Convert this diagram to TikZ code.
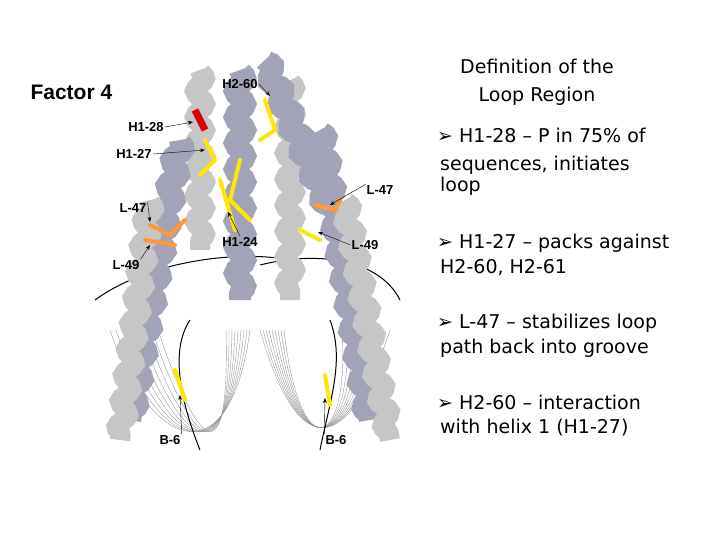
\documentclass[tikz,border=0pt]{standalone}
\usepackage{fontspec}
\setmainfont{DejaVu Sans}
\newfontfamily\lab{Liberation Sans}
\usetikzlibrary{decorations.pathmorphing,arrows.meta}
\begin{document}
\begin{tikzpicture}[x=1pt,y=-1pt,
  lbl/.style={font=\lab\bfseries\fontsize{13}{13}\selectfont,inner sep=1pt},
  txt/.style={font=\fontsize{19}{21}\selectfont,anchor=west,inner sep=0pt},
  ptr/.style={-{Stealth[length=5pt]},thin},
  helixA/.style={line width=22pt,draw=black!35!blue!20!gray!60,decorate,decoration={snake,amplitude=5pt,segment length=26pt}},
  helixB/.style={line width=20pt,draw=gray!45,decorate,decoration={snake,amplitude=5pt,segment length=26pt}},
  dna/.style={draw=black!70,line width=0.4pt},
  stick/.style={draw=yellow!90!orange,line width=4pt,line cap=round},
  ostick/.style={draw=orange!80,line width=4pt,line cap=round}]
\useasboundingbox (0,0) rectangle (720,540);
\fill[white] (0,0) rectangle (720,540);
% DNA
\foreach \d in {0,6,...,48}{
  \draw[dna,draw=black!40] (110+\d,330) .. controls (150+\d,450) and (230,480) .. (250-\d*0.5,330);
  \draw[dna,draw=black!40] (260+\d*0.5,330) .. controls (300,470) and (350,450) .. (390-\d,330);}
\draw[line width=1pt] (95,300) .. controls (150,260) and (240,250) .. (290,260);
\draw[line width=1pt] (260,265) .. controls (320,250) and (380,260) .. (400,300);
\draw[line width=1pt] (200,450) .. controls (180,400) and (170,350) .. (190,320);
\draw[line width=1pt] (320,450) .. controls (330,400) and (345,360) .. (330,320);
% helices
\draw[helixB] (200,70) -- (200,250);
\draw[helixB] (290,80) -- (290,300);
\draw[helixA] (240,70) -- (240,300);
\draw[helixA] (180,140) -- (130,420);
\draw[helixA] (320,130) -- (370,420);
\draw[helixB] (150,200) -- (120,440);
\draw[helixB] (345,200) -- (390,440);
\draw[helixA] (265,60) -- (330,210);
% side chains
\draw[draw=red!85!black,line width=7pt] (195,110) -- (205,130);
\draw[stick] (265,100) -- (275,130) -- (260,140);
\draw[stick] (205,140) -- (215,160) -- (200,175);
\draw[stick] (240,160) -- (230,200) -- (250,220);
\draw[stick] (220,180) -- (235,230);
\draw[ostick] (150,225) -- (170,235) -- (185,220);
\draw[ostick] (145,240) -- (175,245);
\draw[ostick] (315,205) -- (335,210) -- (340,200);
\draw[stick] (300,230) -- (320,240);
\draw[stick] (175,370) -- (185,400);
\draw[stick] (325,375) -- (330,405);
% points
\coordinate (p6a) at (175,108); \coordinate (p28) at (193,122);
\coordinate (p27) at (205,150); \coordinate (p47l) at (150,222);
\coordinate (p49l) at (150,245); \coordinate (p24) at (228,212);
\coordinate (p47r) at (330,205); \coordinate (p49r) at (318,232);
\coordinate (p60) at (270,96); \coordinate (pb1) at (180,395); \coordinate (pb2) at (325,398);
% labels
\node[font=\lab\bfseries\fontsize{21}{21}\selectfont,anchor=west] (f4) at (27,92) {Factor 4};
\node[lbl] (h260) at (240,84) {H2-60};
\node[lbl] (h128) at (146,127) {H1-28};
\node[lbl] (h127) at (134,154) {H1-27};
\node[lbl] (l47l) at (133,208) {L-47};
\node[lbl] (l49l) at (126,265) {L-49};
\node[lbl] (h124) at (240,242) {H1-24};
\node[lbl] (l47r) at (380,190) {L-47};
\node[lbl] (l49r) at (365,245) {L-49};
\node[lbl] (b6l) at (170,440) {B-6};
\node[lbl] (b6r) at (336,440) {B-6};
\draw[ptr] (h260.east) -- (p60);
\draw[ptr] (h128.east) -- (p28);
\draw[ptr] (h127.east) -- (p27);
\draw[ptr] (l47l.north east) -- (p47l);
\draw[ptr] (l49l.north east) -- (p49l);
\draw[ptr] (h124.north) -- (p24);
\draw[ptr] (l47r.north west) -- (p47r);
\draw[ptr] (l49r.west) -- (p49r);
\draw[ptr] (b6l.north east) -- (pb1);
\draw[ptr] (b6r.north west) -- (pb2);
% text
\node[font=\fontsize{19}{28}\selectfont,align=center] (title) at (537,82) {Definition of the\\Loop Region};
\node[txt] (t1) at (437,135) {➢ H1-28 – P in 75\% of};
\node[txt,align=left] (t1b) at (440,176) {sequences, initiates\\loop};
\node[txt] (t2) at (437,243) {➢ H1-27 – packs against};
\node[txt] (t2b) at (440,268) {H2-60, H2-61};
\node[txt] (t3) at (437,323) {➢ L-47 – stabilizes loop};
\node[txt] (t3b) at (440,348) {path back into groove};
\node[txt] (t4) at (437,402) {➢ H2-60 – interaction};
\node[txt] (t4b) at (440,428) {with helix 1 (H1-27)};
\end{tikzpicture}
\end{document}
